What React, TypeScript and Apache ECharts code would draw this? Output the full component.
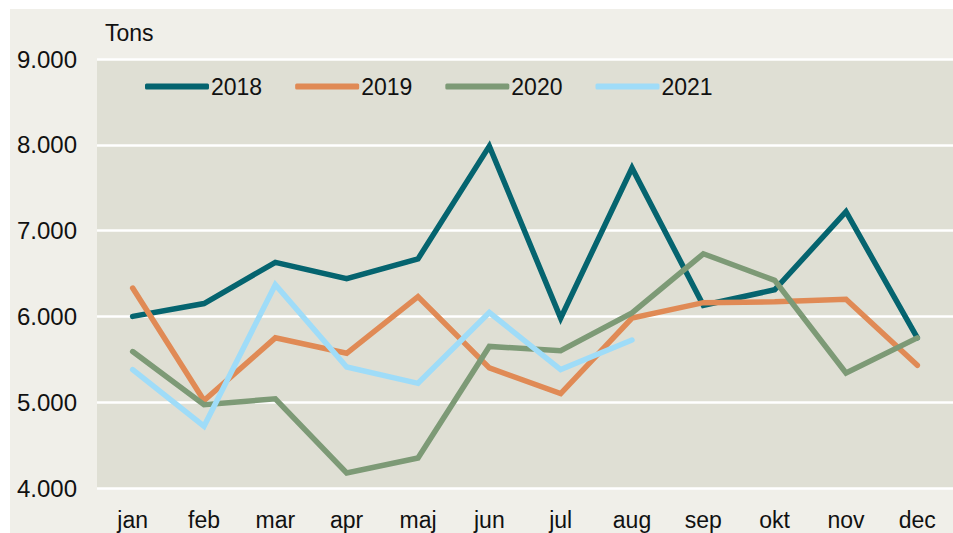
import React, { useEffect, useRef } from "react";
import * as echarts from "echarts";

const months = ["jan", "feb", "mar", "apr", "maj", "jun", "jul", "aug", "sep", "okt", "nov", "dec"];
const s2018 = [6000, 6150, 6630, 6440, 6670, 7985, 5980, 7730, 6130, 6310, 7220, 5750];
const s2019 = [6330, 5020, 5750, 5570, 6230, 5400, 5100, 5980, 6160, 6170, 6200, 5430];
const s2020 = [5590, 4970, 5040, 4175, 4350, 5650, 5600, 6040, 6730, 6420, 5340, 5750];
const s2021 = [5380, 4720, 6370, 5410, 5220, 6045, 5380, 5725];
const seriesNames = ["2018", "2019", "2020", "2021"];
const colors = ["#05646f", "#e08a55", "#7d9a76", "#9fdcf8"];
const unitLabel = "Tons";

export default function App() {
  const ref = useRef<HTMLDivElement>(null);
  useEffect(() => {
    if (!ref.current) return;
    const chart = echarts.init(ref.current, null, { renderer: "svg" });
    const data = [s2018, s2019, s2020, s2021];
    const font = "Liberation Sans, Arial, sans-serif";
    const fs = 23;
    chart.setOption({
      animation: false,
      backgroundColor: "#ffffff",
      textStyle: { fontFamily: font },
      graphic: [
        { type: "rect", z: -10, shape: { x: 10, y: 9, width: 943, height: 524 }, style: { fill: "#f0efe9" } },
        { type: "text", x: 105, y: 33, style: { text: unitLabel, fontSize: fs, fontFamily: font, fill: "#111", textVerticalAlign: "middle" } },
      ],
      legend: {
        left: 140,
        top: 70,
        icon: "roundRect",
        itemWidth: 64,
        itemHeight: 6,
        itemGap: 33,
        textStyle: { fontSize: fs, color: "#111", fontFamily: font, padding: [0, 0, 0, -3] },
        data: seriesNames,
      },
      grid: {
        left: 97,
        top: 59,
        width: 859,
        height: 429,
        show: true,
        backgroundColor: "#dfdfd4",
        borderWidth: 0,
      },
      xAxis: {
        type: "category",
        data: months,
        boundaryGap: true,
        axisLine: { show: false },
        axisTick: { show: false },
        axisLabel: { fontSize: fs, color: "#111", margin: 20, fontFamily: font },
      },
      yAxis: {
        type: "value",
        min: 4000,
        max: 9000,
        interval: 1000,
        axisLine: { show: false },
        axisTick: { show: false },
        splitLine: { lineStyle: { color: "#ffffff", width: 2.5 } },
        axisLabel: {
          fontSize: 24,
          color: "#111",
          margin: 20,
          fontFamily: font,
          formatter: (v: number) => String(v).replace(/\B(?=(\d{3})+(?!\d))/g, "."),
        },
      },
      series: data.map((d, i) => ({
        name: seriesNames[i],
        type: "line",
        data: d,
        showSymbol: false,
        symbol: "none",
        color: colors[i],
        itemStyle: { color: colors[i] },
        lineStyle: { width: 5.5, color: colors[i], cap: "round", join: "miter" },
        z: 2 + i,
      })),
    });
    return () => chart.dispose();
  }, []);
  return (
    <div
      ref={ref}
      style={{ position: "absolute", left: 0, top: 0, width: 953, height: 533 }}
    />
  );
}
